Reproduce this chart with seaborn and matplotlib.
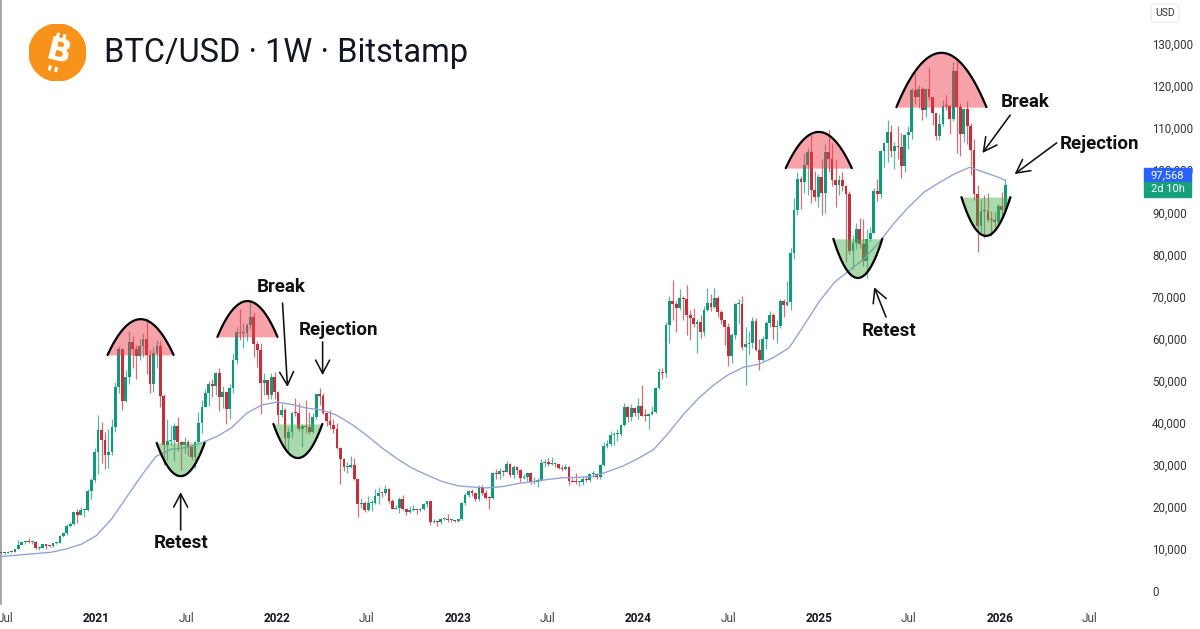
import numpy as np
import pandas as pd
import matplotlib
matplotlib.use("Agg")
import matplotlib.pyplot as plt
import matplotlib.dates as mdates
from matplotlib.patches import Circle, Rectangle
import seaborn as sns

# ---- weekly BTC/USD candles, thousand USD (open = previous close) ----
first_open = 9.30
first_week = "2020-06-22"

close_2020 = [9.00, 9.07, 9.25, 9.18, 9.93, 11.05, 11.68, 11.85, 11.65, 11.70, 10.26, 10.33, 11.08, 10.77,
              10.67, 11.37, 11.50, 13.03, 13.80, 15.48, 15.97, 18.68, 18.17, 19.15, 19.17, 23.85, 26.48, 32.99]
high_2020 = [9.70, 9.30, 9.44, 9.35, 10.10, 12.10, 11.90, 12.00, 12.48, 11.80, 12.00, 10.60, 11.10, 11.18,
             10.95, 11.50, 11.70, 13.30, 13.85, 15.95, 16.30, 18.80, 19.40, 19.90, 19.40, 24.20, 26.80, 34.00]
low_2020 = [8.95, 8.90, 9.05, 9.03, 9.15, 9.90, 10.90, 11.20, 11.30, 11.10, 9.90, 9.85, 10.20, 10.10,
            10.40, 10.55, 11.20, 11.40, 12.90, 13.20, 15.10, 15.80, 16.20, 18.10, 17.60, 19.00, 21.90, 26.00]

close_2021 = [38.2, 35.8, 32.3, 33.1, 38.9, 48.6, 57.4, 45.1, 50.9, 59.1, 57.4, 55.8, 58.2, 59.8, 56.2, 49.1,
              56.6, 58.3, 46.4, 34.7, 35.6, 35.8, 39.1, 35.5, 34.7, 35.3, 34.2, 31.8, 35.4, 39.9, 43.8, 47.1,
              49.3, 48.8, 51.8, 46.0, 47.3, 43.2, 48.2, 54.9, 61.5, 61.3, 61.3, 63.3, 65.0, 58.7, 57.3, 49.4,
              50.1, 46.7, 50.8, 47.3]
high_2021 = [41.9, 40.1, 37.9, 38.5, 40.9, 49.7, 58.3, 57.5, 52.6, 61.8, 60.6, 58.4, 60.0, 61.2, 64.9, 57.2,
             58.0, 59.6, 59.5, 46.9, 40.9, 39.4, 39.9, 41.3, 35.6, 36.6, 35.9, 34.6, 35.6, 42.6, 45.3, 48.1,
             49.9, 50.5, 52.0, 52.9, 48.8, 47.4, 49.2, 56.6, 62.8, 67.0, 63.7, 63.8, 69.0, 66.3, 59.3, 59.0,
             51.9, 50.2, 51.9, 52.0]
low_2021 = [27.7, 30.4, 28.9, 29.2, 32.3, 37.9, 47.0, 43.0, 45.0, 49.3, 53.1, 50.5, 54.9, 55.5, 51.5, 47.0,
            47.3, 53.0, 43.8, 30.0, 31.2, 34.8, 31.0, 33.3, 28.8, 32.7, 32.1, 31.1, 29.3, 35.2, 37.6, 43.8,
            43.9, 46.1, 46.6, 42.8, 43.4, 39.6, 40.8, 47.1, 53.9, 59.7, 57.8, 59.4, 62.3, 55.6, 53.3, 42.0,
            46.7, 45.6, 45.6, 45.7]

close_2022 = [41.9, 43.1, 36.3, 37.9, 42.4, 42.2, 38.4, 39.1, 38.9, 37.8, 41.3, 46.8, 46.4, 42.2, 40.4, 39.5,
              38.5, 34.0, 31.3, 29.4, 29.5, 29.9, 26.6, 20.6, 21.0, 19.3, 20.8, 20.8, 22.6, 23.3, 23.2, 24.3,
              21.5, 19.6, 19.8, 21.8, 19.4, 18.8, 19.3, 19.4, 19.2, 19.6, 20.6, 21.3, 16.3, 16.7, 16.5, 17.1,
              17.1, 16.8, 16.8, 16.6]
high_2022 = [47.5, 44.5, 43.5, 38.9, 42.6, 45.8, 44.7, 39.8, 45.4, 42.6, 42.3, 46.9, 48.2, 47.0, 42.4, 42.9,
             40.8, 40.0, 34.3, 31.6, 30.6, 32.2, 31.7, 26.8, 22.0, 21.5, 22.5, 21.6, 24.2, 24.6, 23.6, 25.2,
             24.4, 21.8, 20.5, 22.3, 22.8, 19.7, 20.2, 20.5, 19.5, 19.7, 21.0, 21.5, 21.4, 17.2, 16.8, 17.4,
             17.4, 18.4, 17.0, 16.9]
low_2022 = [39.6, 41.3, 34.0, 32.9, 36.3, 41.7, 38.0, 34.3, 37.6, 37.2, 37.6, 40.9, 44.2, 42.1, 39.2, 38.6,
            37.6, 33.7, 25.4, 28.6, 28.0, 29.3, 26.3, 17.6, 19.8, 18.8, 19.0, 18.9, 20.6, 20.7, 22.4, 22.7,
            20.8, 19.5, 19.5, 18.5, 19.3, 18.1, 18.5, 19.0, 18.2, 18.9, 19.2, 20.0, 15.6, 16.1, 15.5, 16.0,
            16.8, 16.3, 16.3, 16.3]

close_2023 = [17.1, 20.9, 22.8, 23.7, 23.3, 21.8, 24.6, 23.2, 22.2, 22.1, 28.0, 27.9, 28.5, 28.3, 30.3, 27.6,
              29.5, 28.8, 26.9, 27.1, 28.1, 25.8, 25.9, 26.3, 30.5, 30.6, 30.2, 30.3, 30.1, 29.2, 29.0, 29.4,
              26.1, 26.0, 25.8, 25.8, 26.5, 26.3, 27.9, 27.9, 27.1, 29.9, 34.5, 35.0, 37.1, 37.4, 37.4, 39.5,
              43.8, 41.4, 43.6, 42.3]
high_2023 = [17.2, 21.1, 23.3, 23.9, 24.2, 23.4, 25.2, 25.1, 23.9, 22.6, 28.4, 28.9, 29.2, 28.8, 31.0, 30.5,
             30.0, 29.8, 28.9, 27.7, 28.2, 28.4, 27.1, 26.8, 31.4, 31.3, 31.5, 31.8, 30.4, 30.3, 30.0, 30.2,
             29.7, 26.8, 28.1, 26.1, 27.4, 27.4, 28.0, 28.6, 28.0, 30.3, 35.3, 35.9, 38.0, 37.9, 38.4, 39.8,
             44.7, 44.0, 44.4, 43.7]
low_2023 = [16.5, 16.9, 20.4, 22.3, 22.5, 21.4, 21.4, 22.8, 21.9, 19.6, 21.9, 26.6, 26.6, 27.3, 28.2, 27.2,
            26.9, 27.7, 25.8, 26.5, 26.1, 25.4, 25.4, 24.8, 26.2, 29.5, 29.7, 29.9, 29.5, 29.0, 28.6, 28.8,
            25.2, 25.8, 25.4, 24.9, 25.2, 26.0, 26.0, 27.3, 26.6, 26.6, 29.7, 33.9, 34.5, 34.8, 35.6, 36.9,
            39.2, 40.2, 40.5, 41.5]

close_2024 = [43.9, 41.7, 41.6, 42.0, 42.6, 48.3, 52.1, 51.7, 63.1, 68.9, 68.3, 67.2, 69.6, 69.4, 65.7, 64.9,
              63.4, 63.9, 61.5, 66.9, 68.5, 67.5, 69.6, 66.2, 64.3, 62.7, 55.9, 60.8, 68.2, 68.2, 58.1, 58.7,
              58.9, 64.2, 57.3, 54.8, 59.9, 63.6, 65.6, 62.8, 62.9, 69.0, 67.9, 68.7, 80.4, 90.6, 97.9, 97.2,
              101.2, 104.3, 95.2, 93.7, 98.3]
high_2024 = [45.9, 49.0, 43.2, 42.2, 43.9, 48.5, 52.9, 52.9, 64.0, 70.0, 73.8, 68.9, 71.7, 70.0, 72.8, 66.9,
             67.2, 64.7, 65.5, 67.7, 71.9, 70.6, 71.9, 70.2, 66.9, 64.5, 63.8, 61.4, 68.4, 69.4, 70.0, 62.7,
             61.8, 65.0, 64.9, 59.8, 60.7, 64.1, 66.5, 66.0, 64.5, 69.4, 69.5, 73.6, 81.5, 93.4, 99.6, 98.7,
             104.0, 105.2, 108.4, 99.9, 99.0]
low_2024 = [40.8, 41.5, 40.3, 38.5, 41.9, 42.2, 48.0, 50.5, 50.9, 59.0, 64.5, 61.5, 66.9, 64.5, 60.8, 59.6,
            62.8, 56.5, 60.2, 60.7, 66.6, 66.6, 67.2, 65.0, 63.4, 58.4, 53.5, 54.3, 59.9, 63.4, 57.2, 49.0,
            56.1, 57.8, 57.0, 52.6, 54.6, 57.5, 62.7, 59.8, 58.9, 62.4, 65.1, 67.8, 66.9, 78.9, 89.4, 90.9,
            94.6, 94.1, 92.2, 92.6, 91.2]

close_2025 = [94.5, 104.4, 102.6, 97.7, 96.5, 97.6, 96.3, 94.3, 80.7, 82.6, 86.1, 82.4, 78.4, 83.7, 85.2, 95.0,
              94.3, 104.6, 106.5, 109.0, 104.6, 105.7, 105.6, 100.9, 108.4, 109.2, 119.1, 117.3, 119.4, 114.2,
              119.3, 117.4, 113.5, 108.2, 111.1, 115.3, 115.2, 112.2, 123.5, 115.0, 108.6, 114.5, 110.6, 104.7,
              94.4, 86.8, 90.4, 90.3, 88.2, 88.1, 87.7, 91.5]
high_2025 = [102.7, 106.3, 109.6, 106.5, 102.5, 98.8, 99.5, 96.5, 95.0, 84.7, 87.5, 88.7, 88.5, 86.1, 86.4, 95.7,
             97.9, 104.9, 106.6, 111.9, 110.7, 106.8, 110.5, 108.9, 108.5, 110.5, 119.5, 123.2, 120.2, 119.8,
             119.5, 124.5, 117.5, 113.7, 113.3, 116.7, 117.9, 115.4, 125.7, 126.2, 115.9, 114.9, 116.4, 111.2,
             107.5, 96.6, 93.1, 94.0, 94.6, 90.4, 90.0, 91.9]
low_2025 = [89.3, 89.9, 99.5, 96.2, 91.2, 94.1, 95.0, 78.2, 80.0, 76.6, 81.3, 81.6, 77.2, 74.5, 83.1, 85.1,
            92.8, 93.4, 100.8, 102.0, 103.1, 100.4, 102.6, 98.2, 99.6, 105.1, 107.5, 115.7, 114.7, 112.0,
            112.7, 116.8, 110.8, 107.3, 107.3, 110.6, 114.4, 108.6, 111.6, 104.0, 103.5, 106.8, 106.3, 98.9,
            93.0, 80.5, 85.3, 83.9, 87.6, 84.4, 86.5, 86.8]

close_2026 = [90.5, 96.5]
high_2026 = [94.8, 97.8]
low_2026 = [89.3, 90.3]

# moving average (thousand USD)
ma_dates = ["2020-06-19", "2020-07-01", "2020-08-01", "2020-09-01", "2020-10-01", "2020-11-01", "2020-12-01",
            "2021-01-01", "2021-02-01", "2021-03-01", "2021-04-01", "2021-05-01", "2021-06-01", "2021-07-01",
            "2021-08-01", "2021-09-01", "2021-10-01", "2021-11-01", "2021-12-01", "2022-01-01", "2022-02-01",
            "2022-03-01", "2022-04-01", "2022-05-01", "2022-06-01", "2022-07-01", "2022-08-01", "2022-09-01",
            "2022-10-01", "2022-11-01", "2022-12-01", "2023-01-01", "2023-02-01", "2023-03-01", "2023-04-01",
            "2023-05-01", "2023-06-01", "2023-07-01", "2023-08-01", "2023-09-01", "2023-10-01", "2023-11-01",
            "2023-12-01", "2024-01-01", "2024-02-01", "2024-03-01", "2024-04-01", "2024-05-01", "2024-06-01",
            "2024-07-01", "2024-08-01", "2024-09-01", "2024-10-01", "2024-11-01", "2024-12-01", "2025-01-01",
            "2025-02-01", "2025-03-01", "2025-04-01", "2025-05-01", "2025-06-01", "2025-07-01", "2025-08-01",
            "2025-09-01", "2025-10-01", "2025-11-01", "2025-12-01", "2026-01-01", "2026-01-12"]
ma_values = [8.2, 8.3, 8.6, 8.9, 9.2, 10.0, 11.1,
             13.2, 17.2, 22.0, 27.3, 32.0, 33.7, 34.1, 35.2, 36.7, 38.8, 42.3, 44.2,
             44.9, 44.3, 43.5, 43.0, 41.8, 39.6, 37.0, 34.0, 31.4, 29.2, 27.5, 26.0,
             25.0, 24.7, 24.5, 24.8, 25.5, 26.0, 26.5, 26.9, 27.0, 27.2, 28.4, 29.7,
             31.5, 33.6, 37.4, 41.9, 45.7, 48.9, 51.4, 53.2, 53.9, 55.5, 57.8, 63.1,
             68.8, 73.4, 76.0, 78.9, 82.7, 87.4, 91.3, 94.8, 97.1, 99.1, 100.7, 99.5,
             98.2, 97.568]

price_ticks = list(range(0, 130001, 10000))
time_ticks = ["2020-07-01", "2021-01-01", "2021-07-01", "2022-01-01", "2022-07-01", "2023-01-01", "2023-07-01",
              "2024-01-01", "2024-07-01", "2025-01-01", "2025-07-01", "2026-01-01", "2026-07-01"]
time_labels = ["Jul", "2021", "Jul", "2022", "Jul", "2023", "Jul", "2024", "Jul", "2025", "Jul", "2026", "Jul"]

# ---- build the candle table ----
close = np.array(close_2020 + close_2021 + close_2022 + close_2023 + close_2024 + close_2025 + close_2026) * 1000
high = np.array(high_2020 + high_2021 + high_2022 + high_2023 + high_2024 + high_2025 + high_2026) * 1000
low = np.array(low_2020 + low_2021 + low_2022 + low_2023 + low_2024 + low_2025 + low_2026) * 1000
opn = np.concatenate([[first_open * 1000], close[:-1]])
high = np.maximum.reduce([high, opn, close])
low = np.minimum.reduce([low, opn, close])
weeks = pd.date_range(first_week, periods=len(close), freq="7D")
df = pd.DataFrame({"week": weeks, "open": opn, "high": high, "low": low, "close": close})
df["up"] = df["close"] >= df["open"]

UP, DOWN = "#14987a", "#c2303d"

sns.set_theme(style="white")
plt.rcParams["font.family"] = ["Roboto", "DejaVu Sans"]

fig = plt.figure(figsize=(12, 6.29), dpi=100)
ax = fig.add_axes([0, 26 / 629, 1143 / 1200, 603 / 629])
ax.set_facecolor("white")

xw = mdates.date2num(df["week"])
colors = np.where(df["up"], UP, DOWN)
body_lo = np.minimum(df["open"], df["close"])
body_h = np.maximum(np.abs(df["close"] - df["open"]), 240)
ax.vlines(xw, df["low"], df["high"], colors=colors, lw=0.9, alpha=0.7, zorder=2)
ax.bar(xw, body_h, bottom=body_lo, width=5.6, color=colors, lw=0, zorder=3)

# moving average
ma = pd.DataFrame({"date": pd.to_datetime(ma_dates), "ma": np.array(ma_values) * 1000})
ma["x"] = mdates.date2num(ma["date"])
sns.lineplot(data=ma, x="x", y="ma", ax=ax, color="#8ea2d6", lw=0.95, zorder=4)


def d(s):
    return mdates.date2num(pd.Timestamp(s))


def arc(center, half_days, base, peak, fill):
    t = np.linspace(-1, 1, 120)
    xs = d(center) + t * half_days
    ys = base + (peak - base) * (1 - t ** 2)
    ax.fill_between(xs, base, ys, color=fill, alpha=0.47, lw=0, zorder=5)
    ax.plot(xs, ys, color="black", lw=1.6, zorder=6, solid_capstyle="round")


RED_FILL, GREEN_FILL = "#ef3b4a", "#4caf50"
arc("2021-03-31", 66.7, 56100, 64600, RED_FILL)
arc("2021-11-02", 60.7, 60400, 68900, RED_FILL)
arc("2024-12-31", 66.7, 100500, 109100, RED_FILL)
arc("2025-09-05", 91.0, 115000, 127900, RED_FILL)
arc("2021-06-20", 48.5, 35200, 27300, GREEN_FILL)
arc("2022-02-12", 49.5, 39700, 31600, GREEN_FILL)
arc("2025-03-20", 49.5, 83700, 74400, GREEN_FILL)
arc("2025-12-04", 49.5, 93600, 84400, GREEN_FILL)

# annotations
notes = [
    ("Break", "2022-01-10", 72200, ("2022-01-12", 68400), ("2022-01-22", 48500)),
    ("Rejection", "2022-05-05", 62000, ("2022-04-03", 59200), ("2022-04-03", 51300)),
    ("Retest", "2021-06-20", 11400, ("2021-06-20", 14500), ("2021-06-20", 23500)),
    ("Retest", "2025-05-22", 61800, ("2025-05-16", 65100), ("2025-04-22", 72200)),
    ("Break", "2026-02-22", 116200, ("2026-01-22", 113100), ("2025-11-27", 104100)),
    ("Rejection", "2026-07-22", 106200, ("2026-04-26", 106500), ("2026-01-31", 99100)),
]
for label, tx, ty, tail, head in notes:
    ax.text(d(tx), ty, label, ha="center", va="center", fontsize=13.5, fontweight="bold",
            color="#111111", zorder=8)
    ax.annotate("", xy=(d(head[0]), head[1]), xytext=(d(tail[0]), tail[1]),
                arrowprops=dict(arrowstyle="->,head_length=0.8,head_width=0.42", lw=1.15,
                                color="#111111", shrinkA=0, shrinkB=0), zorder=8)

# axes setup
ax.set_xlim(d("2020-06-19 19:00"), d("2026-10-17 12:00"))
ax.set_ylim(-2852, 140457)
ax.yaxis.tick_right()
ax.set_yticks(price_ticks)
ax.set_yticklabels([f"{v:,}" for v in price_ticks], fontsize=8.3, color="#333333")
ax.set_xticks([d(t) for t in time_ticks])
ax.set_xticklabels(time_labels, fontsize=8.5)
for lbl in ax.get_xticklabels():
    if lbl.get_text() == "Jul":
        lbl.set_color("#444444")
    else:
        lbl.set_fontweight("bold")
        lbl.set_color("#131722")
ax.tick_params(axis="y", length=0, pad=6.5)
ax.tick_params(axis="x", length=0, pad=6.5)
ax.set_xlabel("")
ax.set_ylabel("")
for side in ["top", "right", "bottom"]:
    ax.spines[side].set_visible(False)
ax.spines["left"].set_color("#a6a6a6")
ax.spines["left"].set_linewidth(2)

# header: logo + symbol
logo = fig.add_axes([29 / 1200, 1 - 81 / 629, 57 / 1200, 57 / 629])
logo.set_xlim(-1, 1)
logo.set_ylim(-1, 1)
logo.set_aspect("equal")
logo.axis("off")
logo.add_patch(Circle((0, 0), 1, color="#f7931a"))
logo.text(0.02, -0.02, "B", ha="center", va="center", fontsize=23, fontweight="bold", color="white",
          rotation=-14, rotation_mode="anchor", family=["DejaVu Sans"])
rot = np.deg2rad(-14)
for px in (-0.13, 0.10):
    for y0, y1 in ((0.50, 0.68), (-0.68, -0.50)):
        xs = np.array([px, px])
        ys = np.array([y0, y1])
        logo.plot(xs * np.cos(rot) - ys * np.sin(rot), xs * np.sin(rot) + ys * np.cos(rot),
                  color="white", lw=2.2, solid_capstyle="butt")

fig.text(104 / 1200, 1 - 53 / 629, "BTC/USD · 1W · Bitstamp", ha="left", va="center",
         fontsize=23.5, color="#131722")

# right scale header and last-value tags
fig.text(1165 / 1200, 1 - 13 / 629, "USD", ha="center", va="center", fontsize=7.5, color="#333333",
         bbox=dict(boxstyle="round,pad=0.4", fc="white", ec="#e8e8e8", lw=0.8))
fig.add_artist(Rectangle((1144 / 1200, 1 - 182 / 629), 47 / 1200, 14 / 629, transform=fig.transFigure,
                         color="#2962ff", zorder=5))
fig.add_artist(Rectangle((1144 / 1200, 1 - 197 / 629), 47 / 1200, 15 / 629, transform=fig.transFigure,
                         color="#16a07c", zorder=5))
fig.text(1167.5 / 1200, 1 - 175 / 629, "97,568", ha="center", va="center", fontsize=8, color="white", zorder=6)
fig.text(1167.5 / 1200, 1 - 189.5 / 629, "2d 10h", ha="center", va="center", fontsize=8, color="white", zorder=6)

fig.savefig("out.png", dpi=100, facecolor="white")
